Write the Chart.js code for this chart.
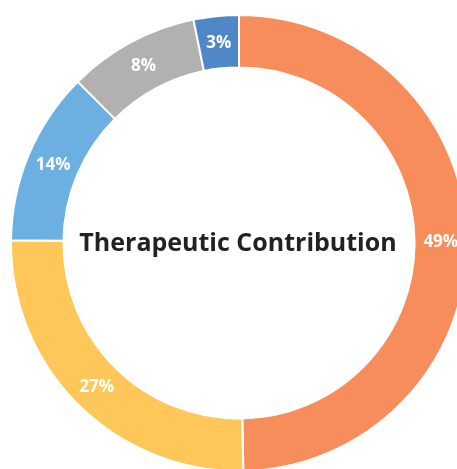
<!DOCTYPE html>
<html>
<head>
<meta charset="utf-8">
<script src="https://cdn.jsdelivr.net/npm/chart.js@4"></script>
<style>
html,body{margin:0;padding:0;background:#fff;overflow:hidden;width:457px;height:469px;}
#c{position:absolute;left:10px;top:14px;}
</style>
</head>
<body>
<canvas id="c" width="458" height="458"></canvas>
<script>
const categories = ["A", "B", "C", "D", "E"];
const arcValues = [49.7, 25.5, 12.3, 9.3, 3.2];
const percentLabels = ["49%", "27%", "14%", "8%", "3%"];
const sliceColors = ["#F78D5B", "#FFC75A", "#6BB0E1", "#B2B0B0", "#4F87C7"];
const centerTitle = "Therapeutic Contribution";

const labelPlugin = {
  id: 'labels',
  afterDatasetsDraw(chart) {
    const ctx = chart.ctx;
    const meta = chart.getDatasetMeta(0);
    ctx.save();
    ctx.fillStyle = '#fff';
    ctx.font = 'bold 17px "Open Sans", sans-serif';
    ctx.textAlign = 'center';
    ctx.textBaseline = 'middle';
    meta.data.forEach((arc, i) => {
      const p = arc.tooltipPosition();
      ctx.fillText(percentLabels[i], p.x, p.y + 1);
    });
    const a = meta.data[0];
    ctx.fillStyle = '#222';
    ctx.font = 'bold 25px "Open Sans", sans-serif';
    ctx.fillText(centerTitle, a.x - 1, a.y + 1);
    ctx.restore();
  }
};

new Chart(document.getElementById('c'), {
  type: 'doughnut',
  data: {
    labels: categories,
    datasets: [{
      data: arcValues,
      backgroundColor: sliceColors,
      borderColor: '#fff',
      borderWidth: 2
    }]
  },
  options: {
    responsive: false,
    animation: false,
    cutout: '77%',
    layout: {padding: 0},
    plugins: {legend: {display: false}, tooltip: {enabled: false}}
  },
  plugins: [labelPlugin]
});
</script>
</body>
</html>
